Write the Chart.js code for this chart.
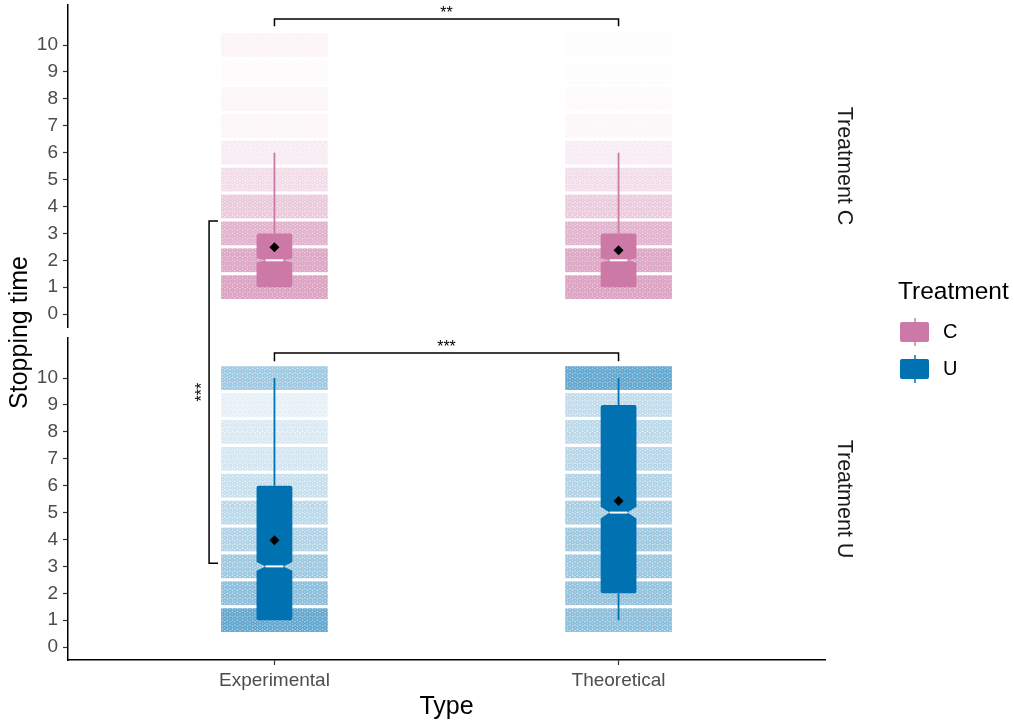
<!DOCTYPE html>
<html lang="en">
<head>
<meta charset="UTF-8">
<title>Stopping time by type and treatment</title>
<script src="https://cdn.jsdelivr.net/npm/chart.js"></script>
<style>
  body { margin: 0; background: #fff; }
  .wrap { position: relative; width: 1014px; height: 727px; }
</style>
</head>
<body>
<div class="wrap"><canvas id="chart" width="1014" height="727"></canvas></div>
<script>
const types = ["Experimental", "Theoretical"];
const treatments = ["C", "U"];
const yTicks = [0, 1, 2, 3, 4, 5, 6, 7, 8, 9, 10];
const levels = [1, 2, 3, 4, 5, 6, 7, 8, 9, 10];

// rough number of jittered points at each stopping time (levels 1..10)
const countsCExp  = [450, 400, 300, 160, 85, 40, 15, 15, 5, 18];
const countsCTheo = [450, 400, 290, 150, 80, 35, 12, 6, 2, 2];
const countsUExp  = [350, 200, 150, 110, 90, 70, 50, 40, 25, 150];
const countsUTheo = [200, 180, 160, 150, 130, 110, 100, 90, 80, 350];

// box stats, [Experimental, Theoretical]
const q1C = [1, 1], medC = [2, 2], q3C = [3, 3], loC = [1, 1], hiC = [6, 6];
const meanC = [2.48, 2.37], notchC = [0.08, 0.08];
const q1U = [1, 2], medU = [3, 5], q3U = [6, 9], loU = [1, 1], hiU = [10, 10];
const meanU = [3.97, 5.43], notchU = [0.16, 0.22];

// significance brackets
const sigC = { from: 0, to: 1, y: 10.97, drop: 0.27, label: "**" };
const sigU = { from: 0, to: 1, y: 10.93, drop: 0.3, label: "***" };
const sigCross = { x: -0.19, yTopC: 3.46, yBottomU: 3.12, tick: 0.026, label: "***" };

const colorC = "#CC79A7";
const colorU = "#0072B2";
const font = "'Liberation Sans', Arial, sans-serif";

Chart.defaults.font.family = font;

const groups = [
    { axis: "yC", color: colorC, counts: [countsCExp, countsCTheo], q1: q1C, med: medC, q3: q3C, lo: loC, hi: hiC, notch: notchC },
    { axis: "yU", color: colorU, counts: [countsUExp, countsUTheo], q1: q1U, med: medU, q3: q3U, lo: loU, hi: hiU, notch: notchU }
];

const jitterW = 0.155, jitterH = 0.44, boxHalf = 0.052;

function dotPattern(ctx, color) {
    const tile = document.createElement("canvas");
    tile.width = 10; tile.height = 9;
    const t = tile.getContext("2d");
    t.fillStyle = color; t.strokeStyle = color; t.lineWidth = 0.7;
    for (let row = 0; row < 2; row++) {
        for (let col = -1; col < 3; col++) {
            const cx = col * 5 + (row === 0 ? 2.5 : 0);
            const cy = row * 4.5 + 2.25;
            t.beginPath();
            t.arc(cx, cy, 1.9, 0, Math.PI * 2);
            t.globalAlpha = 0.35; t.fill();
            t.globalAlpha = 0.8; t.stroke();
        }
    }
    return ctx.createPattern(tile, "repeat");
}

function notchedBox(ctx, xl, xr, yq1, ymed, yq3, nTop, nBot, inset, r) {
    ctx.beginPath();
    ctx.moveTo(xl, yq1 - r);
    ctx.lineTo(xl, nBot);
    ctx.lineTo(xl + inset, ymed);
    ctx.lineTo(xl, nTop);
    ctx.arcTo(xl, yq3, xl + r, yq3, r);
    ctx.arcTo(xr, yq3, xr, yq3 + r, r);
    ctx.lineTo(xr, nTop);
    ctx.lineTo(xr - inset, ymed);
    ctx.lineTo(xr, nBot);
    ctx.arcTo(xr, yq1, xr - r, yq1, r);
    ctx.arcTo(xl, yq1, xl, yq1 - r, r);
    ctx.closePath();
    ctx.fill();
}

const boxPlugin = {
    id: "boxes",
    beforeDatasetsDraw(chart) {
        const ctx = chart.ctx, x = chart.scales.x;
        ctx.save();
        groups.forEach(g => {
            const y = chart.scales[g.axis];
            const pattern = dotPattern(ctx, g.color);
            types.forEach((t, i) => {
                // jittered points, drawn as dotted bands per level
                const left = x.getPixelForValue(i - jitterW), right = x.getPixelForValue(i + jitterW);
                levels.forEach((lv, k) => {
                    const top = y.getPixelForValue(lv + jitterH), bottom = y.getPixelForValue(lv - jitterH);
                    const area = (right - left) * (bottom - top);
                    const cover = g.counts[i][k] * 15 / area;
                    const tint = 1 - Math.pow(0.72, cover);
                    ctx.globalAlpha = tint * 0.75;
                    ctx.fillStyle = g.color;
                    ctx.fillRect(left, top, right - left, bottom - top);
                    ctx.globalAlpha = Math.min(1, Math.pow(tint, 0.7) * 1.2);
                    ctx.fillStyle = pattern;
                    ctx.fillRect(left, top, right - left, bottom - top);
                });
                ctx.globalAlpha = 1;

                const xc = x.getPixelForValue(i);
                const xl = x.getPixelForValue(i - boxHalf), xr = x.getPixelForValue(i + boxHalf);
                // whiskers
                ctx.strokeStyle = g.color; ctx.lineWidth = 1.8;
                ctx.beginPath();
                ctx.moveTo(xc, y.getPixelForValue(g.q3[i])); ctx.lineTo(xc, y.getPixelForValue(g.hi[i]));
                ctx.moveTo(xc, y.getPixelForValue(g.q1[i])); ctx.lineTo(xc, y.getPixelForValue(g.lo[i]));
                ctx.stroke();
                // box
                const ymed = y.getPixelForValue(g.med[i]);
                const inset = (xr - xl) / 4;
                ctx.fillStyle = g.color;
                notchedBox(ctx, xl, xr, y.getPixelForValue(g.q1[i]), ymed, y.getPixelForValue(g.q3[i]),
                    y.getPixelForValue(g.med[i] + g.notch[i]), y.getPixelForValue(g.med[i] - g.notch[i]), inset, 2);
                ctx.strokeStyle = "#fff"; ctx.lineWidth = 2;
                ctx.beginPath();
                ctx.moveTo(xl + inset, ymed); ctx.lineTo(xr - inset, ymed);
                ctx.stroke();
            });
        });
        ctx.restore();
    },
    afterDraw(chart) {
        const ctx = chart.ctx, x = chart.scales.x, yC = chart.scales.yC, yU = chart.scales.yU;
        ctx.save();
        ctx.strokeStyle = "#000"; ctx.fillStyle = "#000"; ctx.lineWidth = 1.5;

        // horizontal brackets
        ctx.font = "16px " + font;
        [[sigC, yC], [sigU, yU]].forEach(([s, y]) => {
            const x1 = x.getPixelForValue(s.from), x2 = x.getPixelForValue(s.to);
            const yl = y.getPixelForValue(s.y), yt = y.getPixelForValue(s.y - s.drop);
            ctx.beginPath();
            ctx.moveTo(x1, yt); ctx.lineTo(x1, yl); ctx.lineTo(x2, yl); ctx.lineTo(x2, yt);
            ctx.stroke();
            ctx.textAlign = "center"; ctx.textBaseline = "alphabetic";
            ctx.fillText(s.label, (x1 + x2) / 2, yl - 1);
        });

        // bracket across the two panels
        const bx = x.getPixelForValue(sigCross.x), bt = x.getPixelForValue(sigCross.x + sigCross.tick);
        const by1 = yC.getPixelForValue(sigCross.yTopC), by2 = yU.getPixelForValue(sigCross.yBottomU);
        ctx.beginPath();
        ctx.moveTo(bt, by1); ctx.lineTo(bx, by1); ctx.lineTo(bx, by2); ctx.lineTo(bt, by2);
        ctx.stroke();
        ctx.save();
        ctx.translate(bx - 2, (by1 + by2) / 2);
        ctx.rotate(-Math.PI / 2);
        ctx.textAlign = "center"; ctx.textBaseline = "alphabetic";
        ctx.fillText(sigCross.label, 0, 0);
        ctx.restore();

        // facet strip labels
        ctx.fillStyle = "#1a1a1a";
        ctx.font = "21.5px " + font;
        [[yC, "Treatment C"], [yU, "Treatment U"]].forEach(([y, txt]) => {
            ctx.save();
            ctx.translate(844, (y.top + y.bottom) / 2);
            ctx.rotate(Math.PI / 2);
            ctx.textAlign = "center"; ctx.textBaseline = "middle";
            ctx.fillText(txt, 0, 0);
            ctx.restore();
        });

        // y axis title, shared by both panels
        ctx.fillStyle = "#000";
        ctx.font = "25px " + font;
        ctx.save();
        ctx.translate(20, (yC.top + yU.bottom) / 2);
        ctx.rotate(-Math.PI / 2);
        ctx.textAlign = "center"; ctx.textBaseline = "middle";
        ctx.fillText("Stopping time", 0, 0);
        ctx.restore();

        // legend
        ctx.textAlign = "left"; ctx.textBaseline = "middle";
        ctx.font = "24.5px " + font;
        ctx.fillText("Treatment", 898, 292);
        ctx.font = "20px " + font;
        treatments.forEach((tr, i) => {
            const cy = 332 + i * 37;
            const col = i === 0 ? colorC : colorU;
            ctx.strokeStyle = col; ctx.lineWidth = 1.5;
            ctx.beginPath(); ctx.moveTo(915, cy - 14); ctx.lineTo(915, cy + 14); ctx.stroke();
            ctx.fillStyle = col;
            ctx.beginPath(); ctx.roundRect(900, cy - 10, 29, 20, 2); ctx.fill();
            ctx.fillStyle = "#000";
            ctx.fillText(tr, 943, cy);
        });
        ctx.restore();
    }
};

function panelAxis(weight) {
    return {
        type: "linear", position: "left", stack: "panels", stackWeight: 322, weight: weight,
        min: -0.48, max: 11.49,
        afterBuildTicks: s => { s.ticks = yTicks.map(v => ({ value: v })); },
        afterFit: s => { s.width = 68; s.paddingTop = 0; s.paddingBottom = 0; },
        ticks: { color: "#4d4d4d", font: { size: 19 }, padding: 5, autoSkip: false },
        grid: { drawOnChartArea: false, tickLength: 5, tickColor: "#333", tickWidth: 1.2 },
        border: { color: "#000", width: 1.5 }
    };
}

new Chart(document.getElementById("chart"), {
    type: "scatter",
    data: {
        datasets: [
            { label: "mean C", data: types.map((t, i) => ({ x: i, y: meanC[i] })), yAxisID: "yC",
              pointStyle: "rectRot", pointRadius: 5, backgroundColor: "#000", borderWidth: 0 },
            { label: "mean U", data: types.map((t, i) => ({ x: i, y: meanU[i] })), yAxisID: "yU",
              pointStyle: "rectRot", pointRadius: 5, backgroundColor: "#000", borderWidth: 0 }
        ]
    },
    options: {
        responsive: false,
        animation: false,
        events: [],
        layout: { padding: { top: 5, right: 189, bottom: 0, left: 0 } },
        plugins: { legend: { display: false }, tooltip: { enabled: false } },
        scales: {
            x: {
                type: "linear", position: "bottom", min: -0.6, max: 1.6,
                afterBuildTicks: s => { s.ticks = types.map((t, i) => ({ value: i })); },
                afterFit: s => { s.height = 67; s.paddingLeft = 0; s.paddingRight = 0; },
                ticks: { callback: v => types[v], color: "#4d4d4d", font: { size: 19 }, padding: 4, maxRotation: 0, autoSkip: false },
                grid: { drawOnChartArea: false, tickLength: 5, tickColor: "#333", tickWidth: 1.2 },
                border: { color: "#000", width: 1.5 },
                title: { display: true, text: "Type", color: "#000", font: { size: 25 }, padding: { top: 0, bottom: 5 } }
            },
            yU: panelAxis(1),
            yGap: {
                type: "linear", position: "left", stack: "panels", stackWeight: 11, weight: 2,
                afterFit: s => { s.width = 68; s.paddingTop = 0; s.paddingBottom = 0; },
                ticks: { display: false }, grid: { display: false }, border: { display: false }
            },
            yC: panelAxis(3)
        }
    },
    plugins: [boxPlugin]
});
</script>
</body>
</html>
